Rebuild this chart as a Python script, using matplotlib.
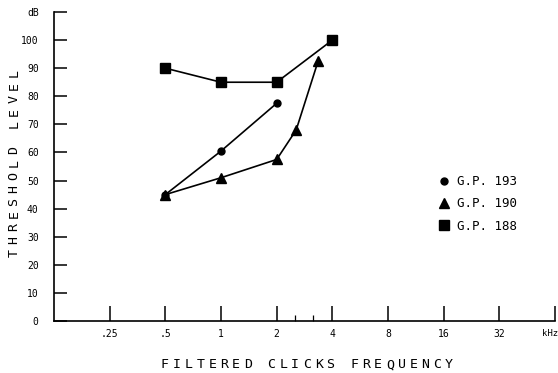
import matplotlib
matplotlib.use('Agg')
import matplotlib.pyplot as plt
from matplotlib.lines import Line2D

# threshold levels (dB) against filtered click frequency (kHz)
freq_193 = [0.5, 1, 2]
level_193 = [45, 60.5, 77.5]

freq_190 = [0.5, 1, 2, 2.55, 3.35]
level_190 = [45, 51, 57.5, 68, 92.5]

freq_188 = [0.5, 1, 2, 4]
level_188 = [90, 85, 85, 100]

x_ticks = [0.25, 0.5, 1, 2, 4, 8, 16, 32]
x_tick_labels = ['.25', '.5', '1', '2', '4', '8', '16', '32']
x_minor = [2.5, 3.15]
y_ticks = [0, 10, 20, 30, 40, 50, 60, 70, 80, 90, 100, 110]
y_tick_labels = ['0', '10', '20', '30', '40', '50', '60', '70', '80', '90', '100', 'dB']

W, H = 558, 373
mono = 'DejaVu Sans Mono'

fig = plt.figure(figsize=(W / 100, H / 100), dpi=100)
ax = fig.add_axes([54 / W, (H - 321) / H, 501 / W, 309 / H])

ax.plot(freq_193, level_193, color='black', lw=1.2, marker='o', ms=5)
ax.plot(freq_190, level_190, color='black', lw=1.2, marker='^', ms=7)
ax.plot(freq_188, level_188, color='black', lw=1.2, marker='s', ms=7)

ax.set_xscale('log', base=2)
ax.set_xlim(0.125, 64)
ax.set_ylim(0, 110)

for side in ['top', 'right']:
    ax.spines[side].set_visible(False)
for side in ['left', 'bottom']:
    ax.spines[side].set_linewidth(1.2)

ax.set_xticks(x_ticks + [64])
ax.set_xticklabels(x_tick_labels + [''], fontfamily=mono, fontsize=7)
ax.set_xticks(x_minor, minor=True)
ax.set_xticklabels([], minor=True)
ax.tick_params(axis='x', which='major', direction='in', length=11, width=1.1, pad=6)
ax.tick_params(axis='x', which='minor', direction='in', length=4.5, width=0.9)

ax.set_yticks(y_ticks)
ax.set_yticklabels(y_tick_labels, fontfamily=mono, fontsize=7)
ax.yaxis.set_minor_locator(plt.NullLocator())
ax.tick_params(axis='y', direction='in', length=9.5, width=1.1, pad=11)

fig.text(550 / W, 1 - 333 / H, 'kHz', fontfamily=mono, fontsize=6.5,
         ha='center', va='center')


def spaced_text(s, x0, y0, pitch, vertical=False):
    # place letters one by one to get the wide typewriter spacing
    for i, ch in enumerate(s):
        if ch == ' ':
            continue
        if vertical:
            fig.text(x0 / W, 1 - (y0 - i * pitch) / H, ch, fontfamily=mono,
                     fontsize=9.5, rotation=90, ha='center', va='center')
        else:
            fig.text((x0 + i * pitch) / W, 1 - y0 / H, ch, fontfamily=mono,
                     fontsize=9.5, ha='center', va='center')


spaced_text('FILTERED CLICKS FREQUENCY', 165, 365, 11.83)
spaced_text('THRESHOLD LEVEL', 14, 253, 12.86, vertical=True)

handles = [
    Line2D([], [], color='black', ls='none', marker='o', ms=5),
    Line2D([], [], color='black', ls='none', marker='^', ms=7),
    Line2D([], [], color='black', ls='none', marker='s', ms=7),
]
labels = ['G.P. 193', 'G.P. 190', 'G.P. 188']
fig.legend(handles, labels, loc='upper left', bbox_to_anchor=(438 / W, 1 - 175 / H),
           frameon=False, prop={'family': mono, 'size': 9}, handlelength=1.0,
           handletextpad=0.5, labelspacing=0.75, borderpad=0, borderaxespad=0)

fig.savefig('out.png', dpi=100)
